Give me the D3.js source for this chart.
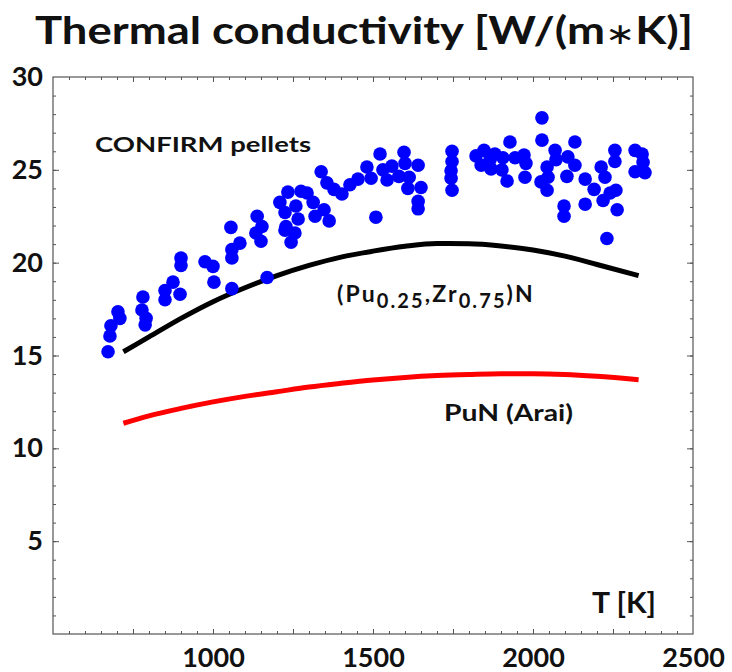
<!DOCTYPE html>
<html>
<head>
<meta charset="utf-8">
<script src="https://cdn.jsdelivr.net/npm/d3@7"></script>
<style>
  html, body { margin: 0; padding: 0; background: #fff; }
  svg { display: block; }
  text { font-family: Lato, "DejaVu Sans", sans-serif; font-weight: 700; fill: #111; }
</style>
</head>
<body>
<svg id="chart" width="732" height="672"></svg>
<script>
// Measured thermal conductivity of CONFIRM pellets, W/(m*K) vs temperature T [K]
const pelletT = [672,678,681,703,709,781,778,791,788,
  850,850,875,897,900,900,975,1000,1003,1056,1059,1059,1084,1059,
  1138,1153,1134,1150,1169,1209,1225,1234,1275,1259,1266,1228,1225,1256,1244,
  1294,1313,1319,1347,1363,1338,1356,1378,1403,1428,1453,1481,1494,1509,
  1522,1531,1559,1544,1597,1600,1581,1613,1609,1641,1650,1641,1641,
  1747,1747,1744,1744,1747,
  1822,1847,1838,1866,1869,1881,1906,1903,1928,1919,1944,1972,1978,1975,
  2028,2028,2069,2072,2044,2047,2025,2044,2109,2131,2131,2106,2097,2097,
  2163,2163,2191,2213,2225,2219,2241,2256,2256,2259,2263,2231,2319,2341,2344,2319,2350];
const pelletK = [15.2,16.05,16.6,17.35,17.0,18.15,17.45,17.0,16.65,
  18.5,18.0,18.95,18.3,20.25,19.85,20.05,19.8,18.95,21.9,20.7,20.25,21.05,18.6,
  22.5,21.95,21.6,21.15,19.2,23.25,22.7,23.8,23.85,23.05,22.35,21.95,21.75,21.6,21.1,
  23.75,23.25,22.5,22.85,22.25,24.9,24.3,23.95,23.7,24.2,24.5,25.15,24.55,22.45,
  25.85,25.0,25.2,24.45,25.95,25.35,24.65,24.6,24.0,25.25,24.05,23.3,22.9,
  26.0,25.45,24.95,24.55,23.9,
  25.75,26.05,25.25,25.55,25.05,25.85,25.65,25.0,26.5,24.4,25.65,25.8,25.35,24.6,
  27.8,26.6,26.05,25.55,25.15,24.6,24.35,23.9,25.7,26.5,25.25,24.65,23.05,22.5,
  24.5,23.15,23.95,25.15,24.6,23.35,23.75,26.05,25.45,23.9,22.85,21.3,26.05,25.85,25.4,24.9,24.85];

// Model curves
const curveT   = [720,800,900,1000,1100,1200,1300,1400,1500,1600,1700,1800,1900,2000,2100,2200,2330];
const kPuZrN   = [15.2,16.0,17.0,17.9,18.65,19.3,19.85,20.3,20.62,20.88,21.03,21.02,20.9,20.68,20.35,19.9,19.3];
const kPuNArai = [11.35,11.75,12.15,12.5,12.8,13.05,13.3,13.5,13.68,13.82,13.92,13.98,14.02,14.02,13.98,13.88,13.7];

// Axis ticks
const xLabelTicks = [1000,1500,2000,2500];
const yLabelTicks = [5,10,15,20,25,30];

const svg = d3.select("#chart");
const x = d3.scaleLinear().domain([500,2500]).range([53,693]);
const y = d3.scaleLinear().domain([0,30]).range([634,77]);

// Title
const title = svg.append("text")
  .attr("x", 35).attr("y", 44)
  .attr("font-size", 38).attr("font-weight", 900)
  .attr("textLength", 658).attr("lengthAdjust", "spacingAndGlyphs");
title.append("tspan").text("Thermal conductivity [W/(m");
title.append("tspan").attr("font-weight", 400).attr("font-size", 30).text("\u2217");
title.append("tspan").text("K)]");

// Tick marks (inward on all four sides)
const tickColor = "#555";
function ticks(axisFn, scale, values, size, transform) {
  const g = svg.append("g").attr("transform", transform)
    .call(axisFn(scale).tickValues(values).tickSize(-size).tickFormat(""));
  g.select(".domain").remove();
  g.selectAll("line").attr("stroke", tickColor);
  return g;
}
const xMinor = d3.range(550, 2500, 50);
const xMajor = d3.range(750, 2500, 250);
const yMinor = d3.range(1, 30, 1);
const yMajor = d3.range(5, 30, 5);
ticks(d3.axisBottom, x, xMinor, 3, `translate(0,${y(0)})`);
ticks(d3.axisBottom, x, xMajor, 5, `translate(0,${y(0)})`);
ticks(d3.axisTop, x, xMinor, 3, `translate(0,${y(30)})`);
ticks(d3.axisTop, x, xMajor, 5, `translate(0,${y(30)})`);
ticks(d3.axisLeft, y, yMinor, 3, `translate(${x(500)},0)`);
ticks(d3.axisLeft, y, yMajor, 6, `translate(${x(500)},0)`);
ticks(d3.axisRight, y, yMinor, 3, `translate(${x(2500)},0)`);
ticks(d3.axisRight, y, yMajor, 6, `translate(${x(2500)},0)`);

// Frame
svg.append("rect")
  .attr("x", x(500)).attr("y", y(30))
  .attr("width", x(2500) - x(500)).attr("height", y(0) - y(30))
  .attr("fill", "none").attr("stroke", tickColor).attr("stroke-width", 1.2);

// Tick labels
const xAx = svg.append("g").attr("transform", `translate(0,${y(0)})`)
  .call(d3.axisBottom(x).tickValues(xLabelTicks).tickSize(0).tickPadding(14).tickFormat(d3.format("d")));
xAx.select(".domain").remove();
xAx.selectAll("text").attr("font-size", 27).attr("font-family", null).attr("fill", "#111");

const yAx = svg.append("g").attr("transform", `translate(${x(500)},0)`)
  .call(d3.axisLeft(y).tickValues(yLabelTicks).tickSize(0).tickPadding(10).tickFormat(d3.format("d")));
yAx.select(".domain").remove();
yAx.selectAll("text").attr("font-size", 27).attr("font-family", null).attr("fill", "#111");

// Model curves
const line = d3.line().curve(d3.curveMonotoneX);
svg.append("path")
  .attr("d", line(curveT.map((t, i) => [x(t), y(kPuNArai[i])])))
  .attr("fill", "none").attr("stroke", "#ff0000").attr("stroke-width", 5);
svg.append("path")
  .attr("d", line(curveT.map((t, i) => [x(t), y(kPuZrN[i])])))
  .attr("fill", "none").attr("stroke", "#000").attr("stroke-width", 5);

// Pellet measurements
svg.append("g").selectAll("circle")
  .data(pelletT.map((t, i) => [t, pelletK[i]]))
  .join("circle")
  .attr("cx", d => x(d[0])).attr("cy", d => y(d[1]))
  .attr("r", 6.8).attr("fill", "#0000ff");

// Annotations
svg.append("text").attr("x", 95).attr("y", 152).attr("font-size", 21)
  .attr("textLength", 216).attr("lengthAdjust", "spacingAndGlyphs").text("CONFIRM pellets");

const puzr = svg.append("text").attr("x", 337).attr("y", 302).attr("font-size", 23)
  .attr("letter-spacing", 2.1);
puzr.append("tspan").text("(Pu");
puzr.append("tspan").attr("dy", 6).attr("font-size", 20).text("0.25");
puzr.append("tspan").attr("dy", -6).text(",Zr");
puzr.append("tspan").attr("dy", 6).attr("font-size", 20).text("0.75");
puzr.append("tspan").attr("dy", -6).text(")N");

svg.append("text").attr("x", 444).attr("y", 421).attr("font-size", 22)
  .attr("textLength", 129).attr("lengthAdjust", "spacingAndGlyphs").text("PuN (Arai)");

svg.append("text").attr("x", 592).attr("y", 613).attr("font-size", 29)
  .attr("textLength", 64).attr("lengthAdjust", "spacingAndGlyphs").text("T [K]");
</script>
</body>
</html>
